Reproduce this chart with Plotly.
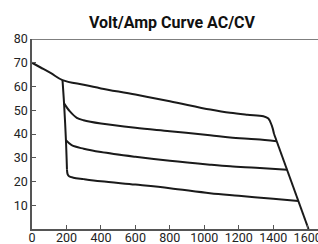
import plotly.graph_objects as go

# Curve data (Amps, Volts)
top_x = [0, 50, 110, 177, 300, 400, 600, 800, 1035, 1150, 1250, 1343, 1372, 1392, 1405]
top_y = [70, 68.0, 65.6, 62.7, 60.7, 59.2, 56.6, 53.8, 50.3, 48.9, 48.1, 47.5, 46.5, 43.5, 40]

drop_x = [1405, 1605]
drop_y = [40, 0]

vert_x = [177, 186, 197, 203]
vert_y = [62.7, 52.9, 37.4, 25]

c2_x = [186, 220, 260, 299, 400, 600, 800, 1033, 1150, 1300, 1420]
c2_y = [52.9, 49.5, 46.8, 45.8, 44.4, 42.6, 41.2, 39.5, 38.5, 37.8, 37]

c3_x = [197, 230, 300, 400, 600, 800, 1033, 1150, 1300, 1480]
c3_y = [37.4, 35.3, 33.8, 32.4, 30.4, 28.7, 27.1, 26.4, 25.8, 25]

c4_x = [203, 207, 215, 240, 300, 400, 600, 800, 1033, 1200, 1400, 1546]
c4_y = [25, 23, 22.2, 21.6, 21, 20.1, 18.7, 17.2, 15.1, 14, 12.7, 11.8]

x_ticks = [0, 200, 400, 600, 800, 1000, 1200, 1400, 1600]
y_ticks = [10, 20, 30, 40, 50, 60, 70, 80]

title = "Volt/Amp Curve AC/CV"

FONT = "Roboto, Liberation Sans, sans-serif"
LINE_COLOR = "#1a1a1a"

fig = go.Figure()
for xs, ys, shape in [
    (top_x, top_y, "spline"),
    (drop_x, drop_y, "linear"),
    (vert_x, vert_y, "spline"),
    (c2_x, c2_y, "spline"),
    (c3_x, c3_y, "spline"),
    (c4_x, c4_y, "spline"),
]:
    fig.add_trace(go.Scatter(x=xs, y=ys, mode="lines",
                             line=dict(color=LINE_COLOR, width=2, shape=shape),
                             hoverinfo="skip", showlegend=False))

axis_common = dict(ticks="inside", ticklen=4, tickcolor="#555", showline=True,
                   linecolor="#555", linewidth=1.5, showgrid=False, zeroline=False,
                   automargin=False, ticklabeloverflow="allow",
                   tickfont=dict(family=FONT, size=12.5, color="#222"))

fig.update_layout(
    width=318, height=244,
    margin=dict(l=32, r=0, t=39, b=15, autoexpand=False),
    paper_bgcolor="white", plot_bgcolor="white",
    title=dict(text="<b>" + title + "</b>", x=172 / 318, xanchor="center",
               y=1 - 22 / 244, yanchor="middle", automargin=False,
               font=dict(family=FONT, size=16, color="#111")),
    font=dict(family=FONT, size=12.5, color="#222"),
    xaxis=dict(range=[0, 1660], tickvals=x_ticks, ticklabelstandoff=-4, **axis_common),
    yaxis=dict(range=[0, 80], tickvals=y_ticks, **axis_common),
    shapes=[dict(type="line", xref="paper", yref="y", x0=0, x1=1, y0=80, y1=80,
                 line=dict(color="#555", width=1.5))],
)

fig.write_html(
    "out.html",
    config={"displayModeBar": False},
    post_script="document.documentElement.style.margin='0';document.body.style.margin='0';document.body.style.overflow='hidden';",
)
